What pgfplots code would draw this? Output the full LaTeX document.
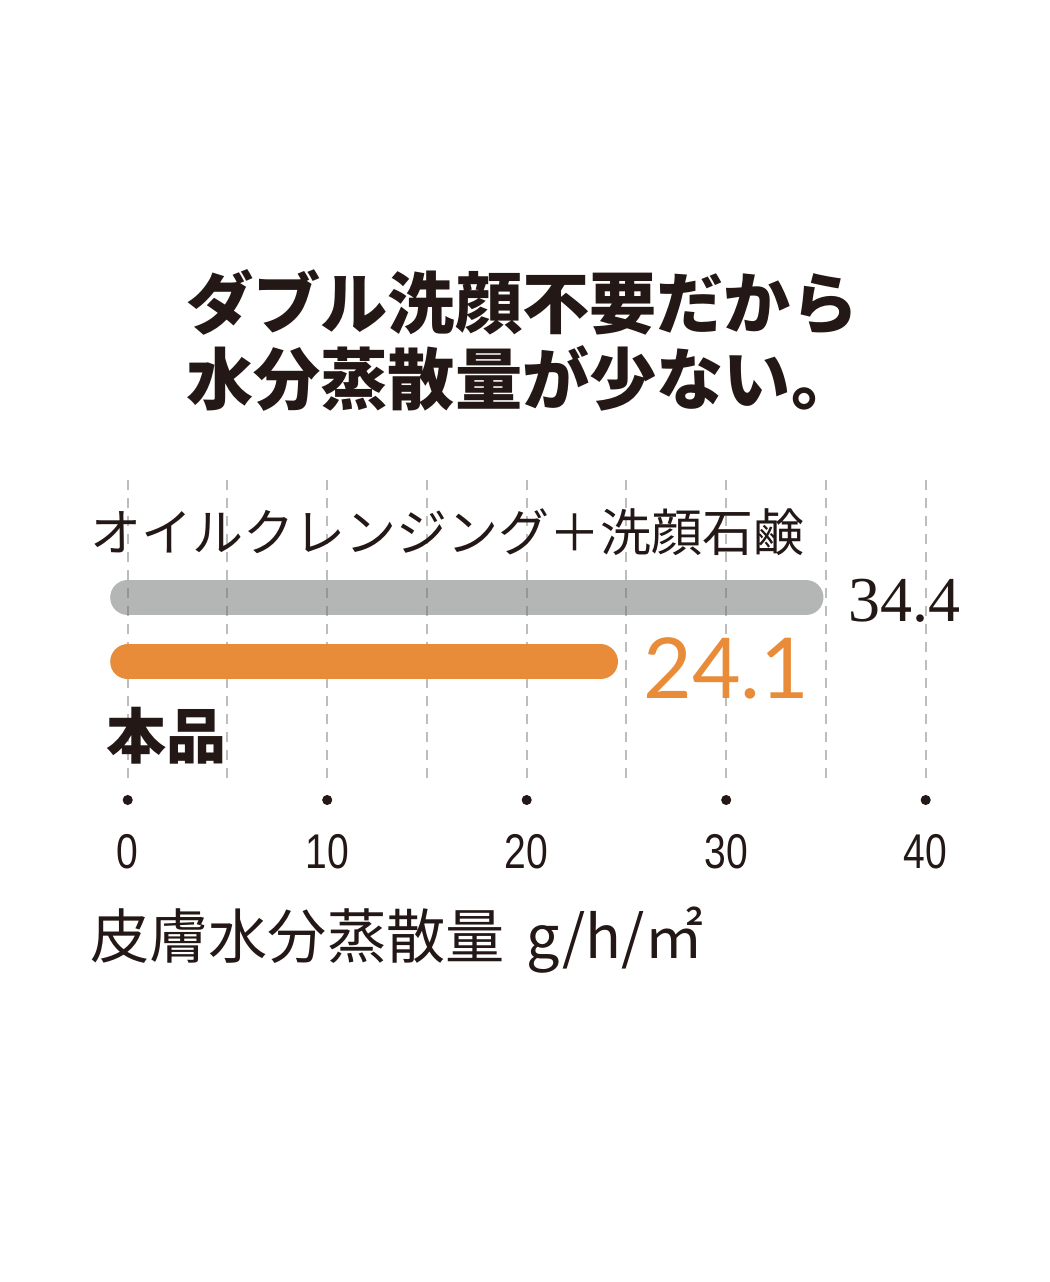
\documentclass[border=0pt]{standalone}
\usepackage{fontspec}
\usepackage{pgfplots}
\pgfplotsset{compat=1.18}
\setmainfont{Liberation Sans}
\newfontfamily\cjk{Noto Sans CJK JP}
\IfFontExistsTF{Noto Sans CJK JP Black}
  {\newfontfamily\cjkblack{Noto Sans CJK JP Black}}
  {\newfontfamily\cjkblack{Noto Sans CJK JP}[UprightFont=*, BoldFont=* Bold]\let\oldcjkblack\cjkblack\def\cjkblack{\oldcjkblack\bfseries}}
\newfontfamily\condfont[FakeStretch=0.8]{Liberation Sans}
\newfontfamily\serifnum{Liberation Serif}
\newfontfamily\sansnum{Lato}
\definecolor{txt}{HTML}{231815}
\definecolor{barg}{HTML}{B4B5B5}
\definecolor{baro}{HTML}{E88C3A}
\definecolor{gridc}{HTML}{BDBDBD}
\definecolor{gridd}{HTML}{959595}
\begin{document}
\begin{tikzpicture}
\useasboundingbox[fill=white] (0,0) rectangle (525pt,641pt);
\begin{axis}[
  at={(63.85pt,252pt)}, anchor=south west,
  scale only axis, width=399pt, height=151.5pt,
  xmin=0, xmax=40, ymin=504, ymax=807,
  clip=false,
  axis line style={draw=none},
  tick style={draw=none},
  ytick=\empty,
  xtick={0,10,20,30,40},
  xticklabels={0,10,20,30,40},
  minor xtick={5,15,25,35},
  xmajorgrids, xminorgrids,
  major grid style={gridc, line width=1pt, dash pattern=on 5pt off 4pt},
  minor grid style={gridc, line width=1pt, dash pattern=on 5pt off 4pt},
  xticklabel style={anchor=center, yshift=-37pt, inner sep=0pt, text=txt,
    font=\condfont\fontsize{24.4}{24.4}\selectfont},
]
\addplot[barg, line width=17.5pt, line cap=round, shorten >=4pt] coordinates {(0,684.5) (34.4,684.5)};
\pgfplotsinvokeforeach{0,5,10,15,20,25,30}{
  \addplot[gridd, line width=1pt, dash pattern=on 5pt off 4pt, dash phase=0.5pt] coordinates {(#1,667) (#1,702)};
}
\addplot[baro, line width=17.5pt, line cap=round, shorten >=4pt] coordinates {(0,620) (24.1,620)};
\addplot[only marks, mark=*, mark size=2.3pt, txt] coordinates {(0,482) (10,482) (20,482) (30,482) (40,482)};
\end{axis}
% title
\node[anchor=west, inner sep=0pt, text=txt, font=\cjkblack\fontsize{33.6}{33.6}\selectfont] at (93pt,490pt) {ダブル洗顔不要だから};
\node[anchor=west, inner sep=0pt, text=txt, font=\cjkblack\fontsize{33.6}{33.6}\selectfont] at (93pt,452pt) {水分蒸散量が少ない。};
% category labels
\node[anchor=west, inner sep=0pt, text=txt, font=\cjk\fontsize{25.5}{25.5}\selectfont] at (45pt,375pt) {オイルクレンジング＋洗顔石鹸};
\node[anchor=west, inner sep=0pt, text=txt, font=\cjkblack\fontsize{30}{30}\selectfont] at (53pt,273pt) {本品};
% value labels
\node[anchor=west, inner sep=0pt, text=txt, font=\serifnum\fontsize{32}{32}\selectfont] at (424pt,340.5pt) {34.4};
\node[anchor=west, inner sep=0pt, text=baro, font=\sansnum\fontsize{42}{42}\selectfont] at (321.5pt,307pt) {24.1};
% axis title
\node[anchor=west, inner sep=0pt, text=txt, font=\cjk\fontsize{29.6}{29.6}\selectfont] at (45pt,171pt) {皮膚水分蒸散量\hspace{4pt} g/h/㎡};
\end{tikzpicture}
\end{document}
